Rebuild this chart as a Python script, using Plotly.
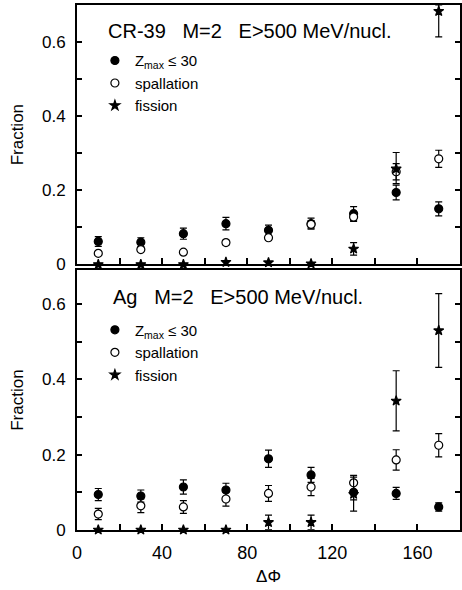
import plotly.graph_objects as go

# ---- data ----
dphi = [10, 30, 50, 70, 90, 110, 130, 150, 170]
x_ticks = [0, 40, 80, 120, 160]
y_ticks = [0, 0.2, 0.4, 0.6]
y_ticktext = ["0", "0.2", "0.4", "0.6"]

# CR-39 panel
cr_zmax = [0.062, 0.060, 0.083, 0.110, 0.092, 0.110, 0.137, 0.194, 0.150]
cr_zmax_err = [0.013, 0.012, 0.015, 0.017, 0.014, 0.015, 0.019, 0.020, 0.019]
cr_spall = [0.030, 0.040, 0.033, 0.059, 0.072, 0.108, 0.128, 0.250, 0.285]
cr_spall_err = [0.0, 0.0, 0.0, 0.006, 0.007, 0.010, 0.012, 0.022, 0.023]
cr_fiss = [0.0, 0.0, 0.0, 0.006, 0.005, 0.002, 0.042, 0.258, 0.683]
cr_fiss_err_hi = [0.0, 0.0, 0.0, 0.0, 0.0, 0.0, 0.017, 0.044, 0.017]
cr_fiss_err_lo = [0.0, 0.0, 0.0, 0.0, 0.0, 0.0, 0.017, 0.040, 0.069]

# Ag panel
ag_zmax = [0.094, 0.090, 0.114, 0.106, 0.189, 0.146, 0.100, 0.097, 0.061]
ag_zmax_err = [0.016, 0.016, 0.019, 0.018, 0.023, 0.020, 0.020, 0.016, 0.011]
ag_spall = [0.042, 0.064, 0.061, 0.082, 0.097, 0.114, 0.125, 0.186, 0.225]
ag_spall_err = [0.015, 0.018, 0.017, 0.019, 0.021, 0.023, 0.020, 0.027, 0.031]
ag_fiss = [0.0, 0.0, 0.0, 0.0, 0.020, 0.020, 0.095, 0.343, 0.530]
ag_fiss_err = [0.0, 0.0, 0.0, 0.0, 0.019, 0.019, 0.045, 0.080, 0.098]

labels = ["Z<sub>max</sub> ≤ 30", "spallation", "fission"]

FONT = "Liberation Sans"
fig = go.Figure()


def add(x, y, err_hi, err_lo, symbol, fill, name, xa, ya, legend):
    fig.add_trace(go.Scatter(
        x=x, y=y, mode="markers", name=name,
        xaxis=xa, yaxis=ya, legend=legend, cliponaxis=False,
        marker=dict(symbol=symbol, size=8 if symbol != "star" else 7.5,
                    color=fill, line=dict(color="black", width=1.2)),
        error_y=dict(type="data", symmetric=False, array=err_hi, arrayminus=err_lo,
                     color="black", thickness=1.2, width=3.5),
    ))


add(dphi, cr_zmax, cr_zmax_err, cr_zmax_err, "circle", "black", labels[0], "x", "y", "legend")
add(dphi, cr_spall, cr_spall_err, cr_spall_err, "circle", "white", labels[1], "x", "y", "legend")
add(dphi, cr_fiss, cr_fiss_err_hi, cr_fiss_err_lo, "star", "black", labels[2], "x", "y", "legend")

add(dphi, ag_zmax, ag_zmax_err, ag_zmax_err, "circle", "black", labels[0], "x2", "y2", "legend2")
add(dphi, ag_spall, ag_spall_err, ag_spall_err, "circle", "white", labels[1], "x2", "y2", "legend2")
add(dphi, ag_fiss, ag_fiss_err, ag_fiss_err, "star", "black", labels[2], "x2", "y2", "legend2")

H = 590.0
W0 = 77.0
PW = 462.0 - W0


def py(px):
    return (H - px) / H


def px_x(px):
    return (px - W0) / PW


axis_common = dict(showline=True, linecolor="black", linewidth=2, showgrid=False,
                   zeroline=False, ticks="inside", tickcolor="black", tickwidth=1.5)
xminor = dict(dtick=20, tick0=0, ticks="inside", ticklen=6, tickwidth=1.5,
              tickcolor="black", showgrid=False)
yminor = dict(dtick=0.1, tick0=0, ticks="inside", ticklen=5, tickwidth=1.5,
              tickcolor="black", showgrid=False)

fig.update_layout(
    width=462, height=590,
    margin=dict(l=int(W0), r=0, t=0, b=0),
    paper_bgcolor="white", plot_bgcolor="white",
    font=dict(family=FONT, size=16, color="black"),
    xaxis=dict(**axis_common, domain=[0, 1], range=[0, 180], anchor="y",
               mirror=True, tickvals=x_ticks, showticklabels=False, ticklen=6,
               minor=xminor),
    yaxis=dict(**axis_common, domain=[py(269), py(5)], range=[0, 0.70], anchor="x",
               mirror="ticks", tickvals=y_ticks, ticktext=y_ticktext, ticklen=5,
               ticklabelstandoff=6, tickfont=dict(size=17), minor=yminor,
               title=dict(text="Fraction", font=dict(size=17), standoff=14)),
    xaxis2=dict(**axis_common, domain=[0, 1], range=[0, 180], anchor="y2",
                mirror=True, tickvals=x_ticks, ticklen=6, minor=xminor,
                tickfont=dict(size=18), ticklabelstandoff=6,
                title=dict(text="ΔΦ", font=dict(size=17), standoff=8)),
    yaxis2=dict(**axis_common, domain=[py(539), py(275)], range=[0, 0.69], anchor="x2",
                mirror="ticks", tickvals=y_ticks, ticktext=y_ticktext, ticklen=5,
                ticklabelstandoff=6, tickfont=dict(size=17), minor=yminor,
                title=dict(text="Fraction", font=dict(size=17), standoff=14)),
    legend=dict(x=px_x(95), y=py(45), xanchor="left", yanchor="top",
                bgcolor="rgba(0,0,0,0)", font=dict(size=15), itemwidth=30,
                tracegroupgap=0),
    legend2=dict(x=px_x(95), y=py(319), xanchor="left", yanchor="top",
                 bgcolor="rgba(0,0,0,0)", font=dict(size=15), itemwidth=30,
                 tracegroupgap=0),
    showlegend=True,
)

sp = "\u00a0\u00a0\u00a0"
fig.add_annotation(text="CR-39" + sp + "M=2" + sp + "E>500 MeV/nucl.", xref="paper", yref="paper",
                   x=px_x(106), y=py(32), xanchor="left", yanchor="middle",
                   showarrow=False, font=dict(size=20))
fig.add_annotation(text="Ag" + sp + "M=2" + sp + "E>500 MeV/nucl.", xref="paper", yref="paper",
                   x=px_x(111), y=py(302), xanchor="left", yanchor="middle",
                   showarrow=False, font=dict(size=20))

fig.write_html("out.html")
